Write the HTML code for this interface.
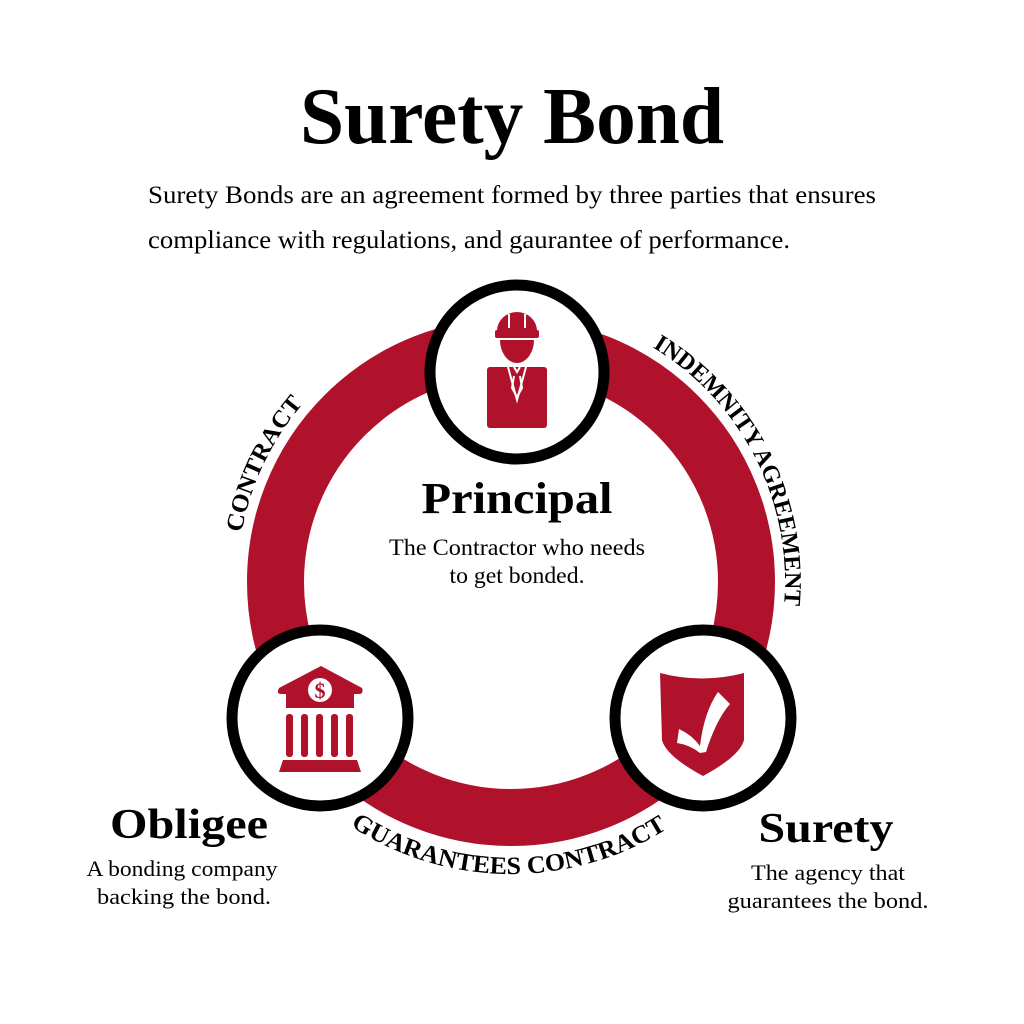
<!DOCTYPE html>
<html><head><meta charset="utf-8"><style>
html,body{margin:0;padding:0;background:#fff;}
svg{display:block;}
text{font-family:"Liberation Serif",serif;fill:#000;}
</style></head><body>
<svg width="1024" height="1024" viewBox="0 0 1024 1024" xmlns="http://www.w3.org/2000/svg">
<rect width="1024" height="1024" fill="#fff"/>
<text x="512" y="143" font-size="80" font-weight="bold" text-anchor="middle" textLength="424" lengthAdjust="spacingAndGlyphs">Surety Bond</text>
<text x="148" y="203" font-size="25" textLength="728" lengthAdjust="spacingAndGlyphs">Surety Bonds are an agreement formed by three parties that ensures</text>
<text x="148" y="248" font-size="25" textLength="642" lengthAdjust="spacingAndGlyphs">compliance with regulations, and gaurantee of performance.</text>

<circle cx="511" cy="582" r="235.5" fill="none" stroke="#b0112b" stroke-width="57"/>

<defs>
<path id="pc" d="M241.2,534.4 A274,274 0 0 1 304.2,402.2"/>
<path id="pi" d="M648,344.7 A274,274 0 0 1 783.5,610.6"/>
<path id="pg" d="M343.5,821.2 A292,292 0 0 0 674.3,824.1"/>
</defs>
<text font-size="24" font-weight="bold"><textPath href="#pc" startOffset="50%" text-anchor="middle" textLength="145" lengthAdjust="spacingAndGlyphs">CONTRACT</textPath></text>
<text font-size="24" font-weight="bold"><textPath href="#pi" startOffset="50%" text-anchor="middle" textLength="305" lengthAdjust="spacingAndGlyphs">INDEMNITY AGREEMENT</textPath></text>
<text font-size="25" font-weight="bold"><textPath href="#pg" startOffset="50%" text-anchor="middle" textLength="335" lengthAdjust="spacingAndGlyphs">GUARANTEES CONTRACT</textPath></text>

<circle cx="517" cy="372" r="87" fill="#fff" stroke="#000" stroke-width="11"/>
<circle cx="320" cy="718" r="88" fill="#fff" stroke="#000" stroke-width="11"/>
<circle cx="703" cy="718" r="88" fill="#fff" stroke="#000" stroke-width="11"/>

<g fill="#b0112b">
<path d="M497,331 A20,19 0 0 1 537,331 Z"/>
<rect x="495" y="330" width="44" height="8" rx="2"/>
<path d="M500,340 L534,340 A17,23 0 0 1 500,340 Z"/>
<rect x="487" y="367" width="60" height="61" rx="3"/>
</g>
<g stroke="#fff" stroke-width="2" fill="none">
<line x1="509" y1="314" x2="509" y2="328"/>
<line x1="525" y1="314" x2="525" y2="328"/>
<polyline points="508,367 517,400 526,367"/>
<polyline points="514,367 517,372 520,367"/>
<polyline points="514,376 512,388 517,397 522,388 520,376"/>
</g>

<g fill="#b0112b">
<path d="M321,666 L362,688 Q364,694 359,694 L354,694 L354,708 L286,708 L286,694 L281,694 Q276,694 279,688 Z"/>
<rect x="286" y="714" width="7" height="43" rx="3"/>
<rect x="301" y="714" width="7" height="43" rx="3"/>
<rect x="316" y="714" width="7" height="43" rx="3"/>
<rect x="331" y="714" width="7" height="43" rx="3"/>
<rect x="346" y="714" width="7" height="43" rx="3"/>
<path d="M283,760 L357,760 L361,772 L279,772 Z"/>
</g>
<circle cx="320" cy="690" r="12" fill="#fff"/>
<text x="320" y="698" font-size="22" font-weight="bold" text-anchor="middle" style="fill:#b0112b">$</text>

<path d="M660,673 Q702,684 744,673 L744,740 Q740,756 703,776 Q666,756 662,740 Z" fill="#b0112b"/>
<path d="M679,729 Q692,735 700,746 Q704,712 718,692 L730,704 Q716,720 706,752 L700,753 Q690,745 677,743 Z" fill="#fff"/>

<text x="517" y="513" font-size="44" font-weight="bold" text-anchor="middle" textLength="191" lengthAdjust="spacingAndGlyphs">Principal</text>
<text x="517" y="555" font-size="23" text-anchor="middle" textLength="256" lengthAdjust="spacingAndGlyphs">The Contractor who needs</text>
<text x="517" y="583" font-size="23" text-anchor="middle" textLength="135" lengthAdjust="spacingAndGlyphs">to get bonded.</text>

<text x="189" y="838" font-size="42" font-weight="bold" text-anchor="middle" textLength="158" lengthAdjust="spacingAndGlyphs">Obligee</text>
<text x="182" y="876" font-size="22" text-anchor="middle" textLength="191" lengthAdjust="spacingAndGlyphs">A bonding company</text>
<text x="184" y="904" font-size="22" text-anchor="middle" textLength="174" lengthAdjust="spacingAndGlyphs">backing the bond.</text>

<text x="826" y="842" font-size="42" font-weight="bold" text-anchor="middle" textLength="135" lengthAdjust="spacingAndGlyphs">Surety</text>
<text x="828" y="880" font-size="22" text-anchor="middle" textLength="154" lengthAdjust="spacingAndGlyphs">The agency that</text>
<text x="828" y="908" font-size="22" text-anchor="middle" textLength="201" lengthAdjust="spacingAndGlyphs">guarantees the bond.</text>
</svg>
</body></html>
